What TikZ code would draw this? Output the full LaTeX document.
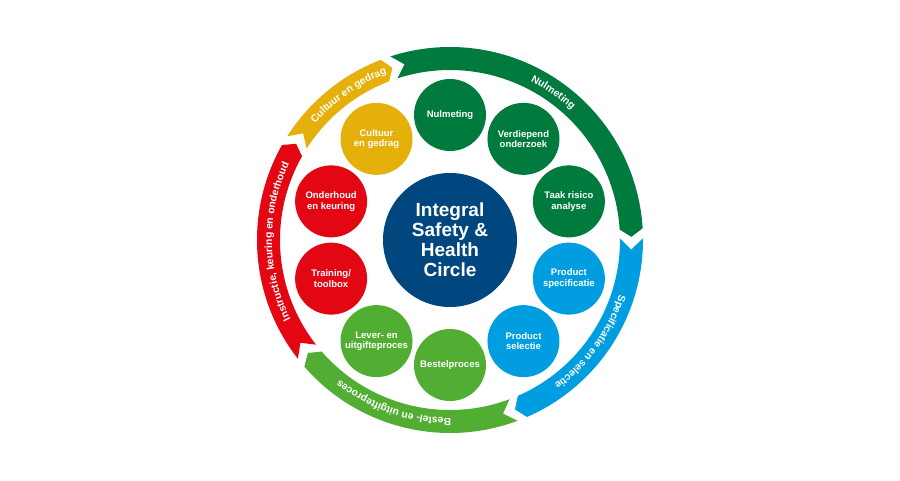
\documentclass[tikz,border=0pt]{standalone}
\usepackage{fontspec}
\setmainfont{Liberation Sans}
\usetikzlibrary{decorations.text}

\definecolor{darkgreen}{RGB}{0,122,61}
\definecolor{lightblue}{RGB}{0,158,224}
\definecolor{lightgreen}{RGB}{82,174,50}
\definecolor{darkred}{RGB}{227,6,19}
\definecolor{ochre}{RGB}{230,176,10}
\definecolor{navy}{RGB}{0,70,127}

\tikzset{
  ringlabel/.style={decorate, decoration={text along path, text align=center,
      text color=white, text={|\bfseries\fontsize{10.3}{12}\selectfont|#1}}}
}

\begin{document}
\begin{tikzpicture}[x=1pt,y=1pt]
        \useasboundingbox (-450,-240) rectangle (450,240);

        % outer ring, clockwise
        \fill[darkgreen]  (108:193) arc[start angle=108, end angle=3.5, radius=193] -- (1:181.5)
              -- (3.5:170) arc[start angle=3.5, end angle=108, radius=170] -- (104.5:181.5) -- cycle;
        \fill[lightblue]  (0.5:193) arc[start angle=0.5, end angle=-66.5, radius=193] -- (-69:181.5)
              -- (-66.5:170) arc[start angle=-66.5, end angle=0.5, radius=170] -- (-3:181.5) -- cycle;
        \fill[lightgreen] (-69.5:193) arc[start angle=-69.5, end angle=-139, radius=193] -- (-141.5:181.5)
              -- (-139:170) arc[start angle=-139, end angle=-69.5, radius=170] -- (-73:181.5) -- cycle;
        \fill[darkred]    (-142:193) arc[start angle=-142, end angle=-209.5, radius=193] -- (-212:181.5)
              -- (-209.5:170) arc[start angle=-209.5, end angle=-142, radius=170] -- (-145.5:181.5) -- cycle;
        \fill[ochre]      (147.5:193) arc[start angle=147.5, end angle=111, radius=193] -- (108.5:181.5)
              -- (111:170) arc[start angle=111, end angle=147.5, radius=170] -- (144:181.5) -- cycle;

        \path[ringlabel=Nulmeting] (95:178) arc[start angle=95, end angle=15, radius=178];
        \path[ringlabel=Specificatie en selectie] (4:178) arc[start angle=4, end angle=-76, radius=178];
        \path[ringlabel=Bestel- en uitgifteproces] (-69:178) arc[start angle=-69, end angle=-149, radius=178];
        \path[ringlabel=Instructie{,} keuring en onderhoud] (220.5:178) arc[start angle=220.5, end angle=140.5, radius=178];
        \path[ringlabel=Cultuur en gedrag] (165:178) arc[start angle=165, end angle=85, radius=178];

        \begin{scope}[every node/.style={circle, minimum size=72pt, inner sep=0pt, text=white,
            align=center, font=\bfseries\fontsize{9.5}{10.5}\selectfont}]
          \node[fill=darkgreen]  (1)  at (90:125)   {Nulmeting};
          \node[fill=darkgreen]  (2)  at (54:125)   {Verdiepend\\onderzoek};
          \node[fill=darkgreen]  (3)  at (18:125)   {Taak risico\\analyse};
          \node[fill=lightblue]  (4)  at (-18:125)  {Product\\specificatie};
          \node[fill=lightblue]  (5)  at (-54:125)  {Product\\selectie};
          \node[fill=lightgreen] (6)  at (-90:125)  {Bestelproces};
          \node[fill=lightgreen] (7)  at (-126:125) {Lever- en\\uitgifteproces};
          \node[fill=darkred]    (8)  at (-162:125) {Training/\\toolbox};
          \node[fill=darkred]    (9)  at (162:125)  {Onderhoud\\en keuring};
          \node[fill=ochre]      (10) at (126:125)  {Cultuur\\en gedrag};
        \end{scope}

        \node[circle, fill=navy, minimum size=134pt, inner sep=0pt, text=white, align=center,
          font=\bfseries\fontsize{19}{20}\selectfont] (0) at (0,0) {Integral\\Safety \&\\Health\\Circle};

\end{tikzpicture}
\end{document}
